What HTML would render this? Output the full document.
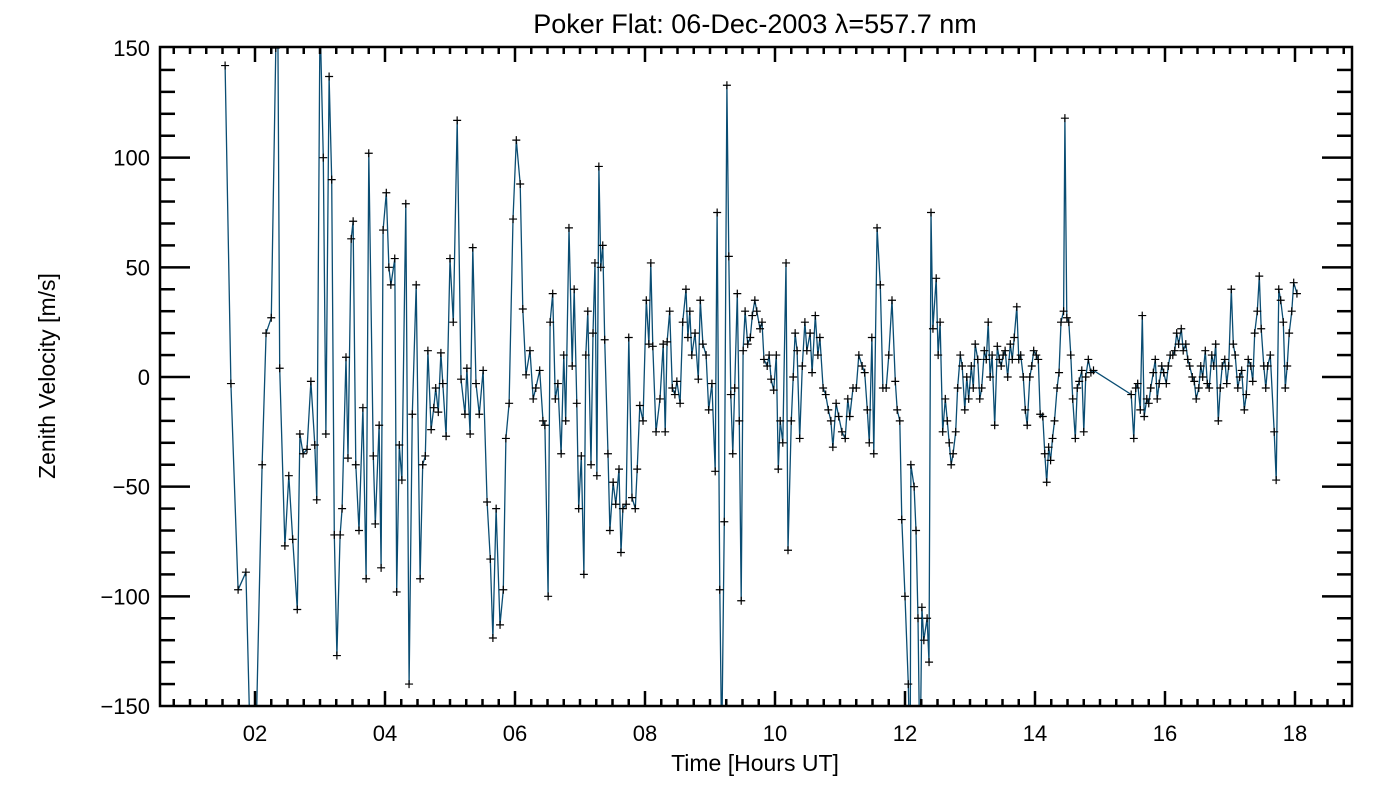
<!DOCTYPE html>
<html><head><meta charset="utf-8"><style>
body{margin:0;background:#fff}
svg text{font-family:"Liberation Sans",sans-serif;fill:#000}
</style></head><body>
<svg id="chart" width="1400" height="800" viewBox="0 0 1400 800" xmlns="http://www.w3.org/2000/svg">
<rect width="1400" height="800" fill="#fff"/>
<text x="755" y="33" font-size="27" text-anchor="middle">Poker Flat: 06-Dec-2003 λ=557.7 nm</text>
<text x="755" y="771" font-size="23" text-anchor="middle">Time [Hours UT]</text>
<text transform="translate(55,376) rotate(-90)" font-size="23" text-anchor="middle">Zenith Velocity [m/s]</text>
<g id="plot"></g>
</svg>
<script>
const times=[1.54,1.63,1.74,1.86,1.92,2.02,2.11,2.17,2.25,2.32,2.35,2.38,2.46,2.52,2.58,2.65,2.69,2.74,2.80,2.86,2.92,2.95,3.00,3.05,3.09,3.14,3.18,3.22,3.26,3.31,3.34,3.40,3.43,3.48,3.51,3.55,3.60,3.66,3.71,3.75,3.82,3.85,3.91,3.94,3.97,4.02,4.06,4.09,4.15,4.18,4.22,4.26,4.32,4.37,4.42,4.48,4.54,4.58,4.62,4.66,4.71,4.75,4.78,4.82,4.86,4.89,4.94,5.00,5.05,5.11,5.17,5.23,5.26,5.31,5.35,5.40,5.45,5.51,5.57,5.62,5.66,5.71,5.77,5.82,5.86,5.91,5.97,6.02,6.08,6.12,6.17,6.23,6.28,6.32,6.38,6.43,6.46,6.51,6.54,6.58,6.62,6.66,6.71,6.75,6.78,6.83,6.88,6.91,6.95,6.98,7.02,7.06,7.09,7.12,7.17,7.20,7.23,7.26,7.29,7.32,7.35,7.38,7.43,7.46,7.51,7.55,7.60,7.63,7.66,7.71,7.75,7.80,7.85,7.88,7.92,7.97,8.02,8.06,8.09,8.12,8.17,8.23,8.28,8.31,8.34,8.38,8.42,8.46,8.49,8.54,8.58,8.63,8.66,8.69,8.72,8.77,8.82,8.85,8.89,8.94,8.98,9.03,9.08,9.11,9.15,9.18,9.22,9.26,9.29,9.32,9.35,9.38,9.42,9.45,9.48,9.51,9.54,9.58,9.62,9.65,9.69,9.72,9.77,9.80,9.83,9.88,9.91,9.94,9.98,10.02,10.05,10.08,10.12,10.17,10.20,10.25,10.28,10.31,10.34,10.38,10.42,10.46,10.49,10.54,10.57,10.62,10.66,10.69,10.74,10.78,10.82,10.86,10.89,10.94,10.98,11.03,11.08,11.12,11.15,11.20,11.25,11.29,11.34,11.38,11.42,11.45,11.49,11.52,11.57,11.62,11.66,11.71,11.75,11.80,11.85,11.88,11.92,11.95,12.00,12.05,12.08,12.09,12.14,12.17,12.20,12.23,12.26,12.29,12.34,12.37,12.40,12.43,12.48,12.51,12.54,12.58,12.62,12.65,12.68,12.71,12.74,12.78,12.81,12.85,12.88,12.92,12.95,12.98,13.02,13.05,13.08,13.12,13.15,13.18,13.22,13.25,13.28,13.31,13.34,13.38,13.42,13.45,13.48,13.51,13.54,13.58,13.62,13.65,13.68,13.72,13.75,13.78,13.82,13.85,13.88,13.92,13.95,13.98,14.02,14.05,14.08,14.12,14.15,14.18,14.21,14.24,14.27,14.30,14.34,14.37,14.40,14.44,14.46,14.49,14.52,14.55,14.58,14.62,14.65,14.68,14.72,14.75,14.78,14.82,14.86,14.90,15.48,15.52,15.55,15.58,15.62,15.65,15.68,15.72,15.75,15.78,15.82,15.85,15.88,15.91,15.95,15.98,16.02,16.05,16.08,16.12,16.15,16.18,16.21,16.25,16.28,16.32,16.35,16.38,16.42,16.45,16.48,16.52,16.55,16.58,16.62,16.65,16.68,16.72,16.75,16.78,16.82,16.85,16.88,16.92,16.95,16.98,17.02,17.05,17.08,17.12,17.15,17.18,17.22,17.25,17.28,17.32,17.35,17.38,17.42,17.45,17.48,17.52,17.55,17.58,17.62,17.68,17.71,17.75,17.78,17.82,17.85,17.88,17.91,17.95,17.98,18.03];
const velocities=[142,-3,-97,-89,-160,-160,-40,20,27,150,165,4,-77,-45,-74,-106,-26,-35,-33,-2,-31,-56,165,100,-26,137,90,-72,-127,-72,-60,9,-37,63,71,-40,-70,-14,-92,102,-36,-67,-22,-87,67,84,50,42,54,-98,-31,-47,79,-140,-17,42,-92,-40,-36,12,-24,-14,-5,-16,11,-3,-27,54,25,117,-1,-17,4,-26,59,-3,-17,3,-57,-83,-119,-60,-113,-97,-28,-12,72,108,88,31,1,12,-10,-5,3,-20,-22,-100,25,38,-10,-3,-35,10,-20,68,5,40,-12,-60,-36,-90,10,30,-40,20,52,-45,96,50,60,17,-35,-70,-48,-58,-42,-80,-60,-58,18,-55,-60,-42,-13,-20,35,15,52,14,-25,-10,15,-25,16,30,-5,-8,-2,-12,25,40,18,30,10,20,-1,35,15,10,-15,-3,-43,75,-97,-170,-66,133,55,-8,-35,-5,38,-20,-102,12,30,15,18,28,35,30,22,25,8,5,10,-1,-6,10,-42,-20,-30,52,-79,-20,0,20,12,-28,5,25,12,20,2,28,10,18,-5,-8,-15,-20,-32,-12,-18,-25,-28,-10,-18,-5,-5,10,5,2,-15,-30,18,-35,68,42,-5,-5,10,35,-2,-15,-20,-65,-100,-140,-180,-40,-50,-70,-110,-180,-105,-120,-110,-130,75,22,45,10,25,-25,-10,-20,-30,-40,-35,-25,-5,10,5,-15,0,-10,5,-5,15,8,-10,-5,12,8,25,0,10,-22,14,8,5,10,12,0,15,8,18,32,8,10,0,-15,-22,0,5,12,10,8,-17,-18,-35,-48,-32,-38,-28,-20,-5,2,25,30,118,27,25,10,-10,-28,-5,-2,3,-25,0,8,2,3,-8,-28,-5,-3,-15,28,-18,-10,-12,-5,2,8,-10,-3,5,2,-3,5,10,10,12,20,15,22,12,15,8,5,0,-2,-10,-5,5,0,12,-3,-5,10,5,15,-20,-5,5,8,-3,5,40,15,10,-5,0,3,-15,-8,8,5,-2,20,30,46,22,5,-5,5,10,-25,-47,40,35,25,-5,5,20,30,43,38,-2];
const xTickLabels=["02","04","06","08","10","12","14","16","18"];
const xTickValues=[2,4,6,8,10,12,14,16,18];
const yTickValues=[-150,-100,-50,0,50,100,150];

const NS="http://www.w3.org/2000/svg";
const L=160,R=1352,T=47,B=706;
const xs=h=>255+(h-2)*65;
const ys=v=>377-v*(329/150);
const g=document.getElementById('plot');
function mk(tag,attrs,parent){const e=document.createElementNS(NS,tag);for(const k in attrs)e.setAttribute(k,attrs[k]);(parent||g).appendChild(e);return e;}

const defs=mk('defs',{});
const cp=mk('clipPath',{id:'clip'},defs);
mk('rect',{x:L,y:T,width:R-L,height:B-T},cp);

let d='';
times.forEach((t,i)=>{d+=(i?'L':'M')+xs(t).toFixed(1)+','+ys(velocities[i]).toFixed(1);});
const line=mk('path',{d:d,fill:'none',stroke:'#0a4d73','stroke-width':1.3,'clip-path':'url(#clip)'});


const mg=mk('g',{'clip-path':'url(#clip)'});


times.forEach((t,i)=>{
  const x=xs(t),y=ys(velocities[i]);
  const p=mk('path',{d:`M${x-4},${y}h8M${x},${y-4}v8`,stroke:'#000','stroke-width':1.2},mg);
  
  
});

const fr=mk('rect',{x:L,y:T,width:R-L,height:B-T,fill:'none',stroke:'#000','stroke-width':2.5});



const xa=mk('g',{stroke:'#000','stroke-width':2.5});


for(let h=0.75;h<=18.9;h+=0.25){
  const x=xs(h); if(x<L+2||x>R-2)continue;
  const major=Math.abs(h-Math.round(h))<1e-6&&Math.round(h)%2===0;
  const len=major?15:7;
  mk('line',{x1:x,x2:x,y1:B,y2:B-len},xa);
  mk('line',{x1:x,x2:x,y1:T,y2:T+len},xa);
}
xTickValues.forEach((v,i)=>{
  const t=mk('text',{x:xs(v),y:741,'font-size':22,'text-anchor':'middle'});
  t.textContent=xTickLabels[i];
  
  
});
const ya=mk('g',{stroke:'#000','stroke-width':2.5});


for(let v=-140;v<150;v+=10){
  const y=ys(v);const major=v%50===0;const len=major?30:15;
  mk('line',{x1:L,x2:L+len,y1:y,y2:y},ya);
  mk('line',{x1:R,x2:R-len,y1:y,y2:y},ya);
}
yTickValues.forEach(v=>{
  const t=mk('text',{x:150,y:ys(v)+8,'font-size':22,'text-anchor':'end'});
  t.textContent=(v<0?'\u2212':'')+Math.abs(v);
  
  
});
</script>
</body></html>
